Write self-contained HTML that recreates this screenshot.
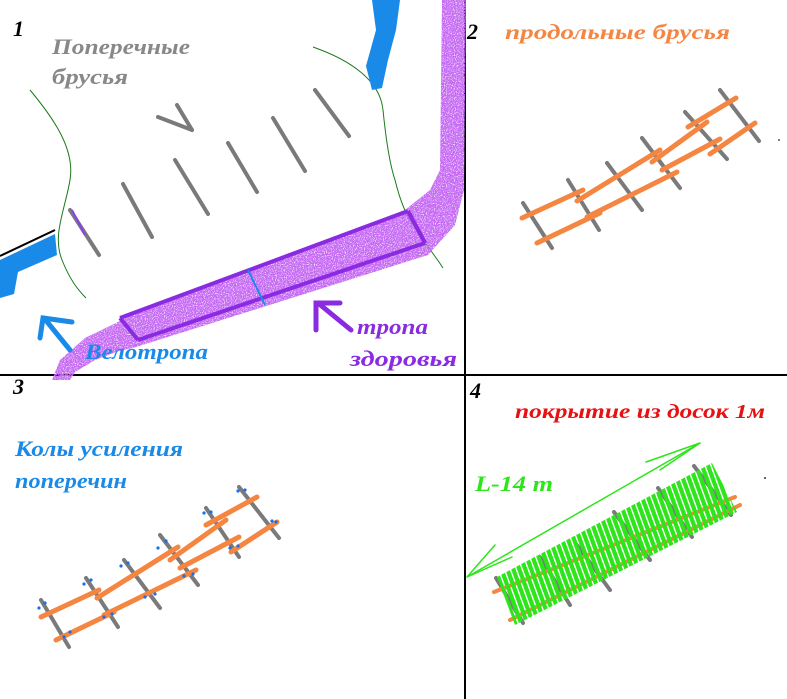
<!DOCTYPE html>
<html><head><meta charset="utf-8"><style>
html,body{margin:0;padding:0;background:#fff;}
svg{display:block;}
text{font-family:"Liberation Serif",serif;font-style:italic;}
</style></head><body>
<svg width="787" height="699" viewBox="0 0 787 699" xmlns="http://www.w3.org/2000/svg">
<defs>
<pattern id="boards" width="5.6" height="10" patternUnits="userSpaceOnUse" patternTransform="rotate(-20)">
<rect x="0" y="0" width="4.2" height="10" fill="#2ee51c"/>
</pattern>
<filter id="speck"><feTurbulence type="fractalNoise" baseFrequency="0.9" numOctaves="1" result="n"/><feColorMatrix in="n" type="matrix" values="0 0 0 0 0.56  0 0 0 0 0.14  0 0 0 0 0.9  0 0 0 -3.5 2.7" result="c"/><feComposite in="c" in2="SourceGraphic" operator="in"/></filter>
</defs>

<line x1="465" y1="0" x2="465" y2="699" stroke="#000" stroke-width="2"/>
<line x1="0" y1="375" x2="787" y2="375" stroke="#000" stroke-width="2"/>

<text x="13" y="36" font-size="22" font-weight="bold">1</text>
<text x="52" y="54" font-size="22" font-weight="bold" fill="#888" textLength="138" lengthAdjust="spacingAndGlyphs">Поперечные</text>
<text x="52" y="84" font-size="22" font-weight="bold" fill="#888" textLength="76" lengthAdjust="spacingAndGlyphs">брусья</text>

<path d="M30,90 C55,120 75,150 70,180 C65,210 52,235 62,260 C70,280 78,290 86,298" fill="none" stroke="#1a7a1a" stroke-width="1"/>
<path d="M313,47 C350,60 380,80 383,110 C386,140 390,165 395,180 C400,200 405,215 420,235 C430,250 438,260 443,268" fill="none" stroke="#1a7a1a" stroke-width="1"/>

<path d="M0,260 L55,234 L57,255 L18,272 L14,294 L0,298 Z" fill="#1a8ae8"/>
<path d="M0,256 L55,230" stroke="#000" stroke-width="2"/>
<path d="M372,0 L400,0 L396,30 L388,60 L382,88 L372,90 L366,66 L376,30 Z" fill="#1a8ae8"/>

<g stroke="#7a7a7a" stroke-width="4" stroke-linecap="round">
<line x1="70" y1="210" x2="99" y2="255"/>
<line x1="123" y1="184" x2="152" y2="237"/>
<line x1="175" y1="160" x2="208" y2="214"/>
<line x1="228" y1="143" x2="257" y2="192"/>
<line x1="273" y1="118" x2="305" y2="171"/>
<line x1="315" y1="90" x2="349" y2="136"/>
<line x1="177" y1="105" x2="192" y2="130"/>
<line x1="158" y1="117" x2="192" y2="130"/>
</g>
<line x1="72" y1="210" x2="85" y2="235" stroke="#8a3ff0" stroke-width="2"/>

<g filter="url(#speck)">
<path d="M442,0 L466,0 L464,190 L455,225 L428,255 L136,347 L116,352 L95,360 L75,372 L70,380 L52,380 L60,360 L85,338 L118,322 L125,318 L405,210 L430,190 L440,170 Z" fill="#000"/>
</g>
<g fill="none" stroke="#8a2be2" stroke-width="4">
<line x1="120" y1="318" x2="408" y2="211"/>
<line x1="138" y1="340" x2="425" y2="243"/>
<line x1="120" y1="318" x2="138" y2="340"/>
<line x1="408" y1="211" x2="425" y2="243"/>
</g>
<line x1="248" y1="270" x2="265" y2="305" stroke="#1a8ae8" stroke-width="2"/>
<g stroke="#8a2be2" stroke-width="5" stroke-linecap="round" fill="none">
<line x1="318" y1="303" x2="351" y2="330"/>
<polyline points="316,330 316,303 340,303"/>
</g>
<text x="357" y="334" font-size="22" font-weight="bold" fill="#8a2be2" textLength="71" lengthAdjust="spacingAndGlyphs">тропа</text>
<text x="350" y="366" font-size="22" font-weight="bold" fill="#8a2be2" textLength="107" lengthAdjust="spacingAndGlyphs">здоровья</text>

<g stroke="#1a8ae8" stroke-width="5" stroke-linecap="round" fill="none">
<line x1="44" y1="318" x2="70" y2="350"/>
<polyline points="40,338 43,318 72,322"/>
</g>
<text x="85" y="359" font-size="22" font-weight="bold" fill="#1a8ae8" textLength="123" lengthAdjust="spacingAndGlyphs">Велотропа</text>

<text x="467" y="39" font-size="22" font-weight="bold">2</text>
<text x="505" y="39" font-size="21" font-weight="bold" fill="#f58642" textLength="225" lengthAdjust="spacingAndGlyphs">продольные  брусья</text>
<g stroke="#7a7a7a" stroke-width="4" stroke-linecap="round">
<line x1="523" y1="203" x2="552" y2="248"/>
<line x1="568" y1="180" x2="599" y2="230"/>
<line x1="607" y1="163" x2="642" y2="210"/>
<line x1="642" y1="138" x2="680" y2="188"/>
<line x1="685" y1="112" x2="727" y2="159"/>
<line x1="720" y1="90" x2="759" y2="141"/>
</g>
<g stroke="#f58642" stroke-width="5" stroke-linecap="round">
<line x1="522" y1="218" x2="583" y2="190"/>
<line x1="577" y1="201" x2="660" y2="150"/>
<line x1="652" y1="162" x2="707" y2="122"/>
<line x1="688" y1="127" x2="736" y2="98"/>
<line x1="537" y1="243" x2="600" y2="213"/>
<line x1="587" y1="217" x2="677" y2="172"/>
<line x1="662" y1="170" x2="720" y2="139"/>
<line x1="710" y1="154" x2="755" y2="123"/>
</g>
<circle cx="779" cy="140" r="1" fill="#555"/>

<text x="13" y="394" font-size="22" font-weight="bold">3</text>
<text x="15" y="456" font-size="22" font-weight="bold" fill="#1a8ae8" textLength="168" lengthAdjust="spacingAndGlyphs">Колы усиления</text>
<text x="15" y="488" font-size="22" font-weight="bold" fill="#1a8ae8" textLength="112" lengthAdjust="spacingAndGlyphs">поперечин</text>
<g stroke="#7a7a7a" stroke-width="4" stroke-linecap="round">
<line x1="41" y1="600" x2="69" y2="647"/>
<line x1="86" y1="578" x2="118" y2="627"/>
<line x1="124" y1="560" x2="160" y2="608"/>
<line x1="160" y1="535" x2="198" y2="585"/>
<line x1="206" y1="508" x2="239" y2="557"/>
<line x1="239" y1="487" x2="279" y2="538"/>
</g>
<g stroke="#f58642" stroke-width="5" stroke-linecap="round">
<line x1="41" y1="617" x2="99" y2="590"/>
<line x1="97" y1="598" x2="178" y2="547"/>
<line x1="170" y1="560" x2="226" y2="520"/>
<line x1="206" y1="525" x2="257" y2="497"/>
<line x1="56" y1="640" x2="114" y2="612"/>
<line x1="104" y1="615" x2="196" y2="570"/>
<line x1="180" y1="568" x2="239" y2="537"/>
<line x1="231" y1="552" x2="277" y2="522"/>
</g>
<g fill="#1a6ee8">
<circle cx="39" cy="608" r="1.6"/><circle cx="45" cy="603" r="1.6"/><circle cx="64" cy="637" r="1.6"/><circle cx="70" cy="632" r="1.6"/>
<circle cx="84" cy="584" r="1.6"/><circle cx="91" cy="580" r="1.6"/><circle cx="104" cy="617" r="1.6"/><circle cx="112" cy="614" r="1.6"/>
<circle cx="121" cy="566" r="1.6"/><circle cx="128" cy="563" r="1.6"/><circle cx="145" cy="597" r="1.6"/><circle cx="155" cy="594" r="1.6"/>
<circle cx="158" cy="548" r="1.6"/><circle cx="166" cy="541" r="1.6"/><circle cx="184" cy="576" r="1.6"/><circle cx="193" cy="574" r="1.6"/>
<circle cx="204" cy="513" r="1.6"/><circle cx="211" cy="512" r="1.6"/><circle cx="230" cy="548" r="1.6"/><circle cx="238" cy="546" r="1.6"/>
<circle cx="238" cy="491" r="1.6"/><circle cx="245" cy="490" r="1.6"/><circle cx="272" cy="521" r="1.6"/><circle cx="276" cy="522" r="1.6"/>
</g>

<text x="470" y="398" font-size="22" font-weight="bold">4</text>
<text x="515" y="418" font-size="20" font-weight="bold" fill="#e81010" textLength="250" lengthAdjust="spacingAndGlyphs">покрытие из досок 1м</text>
<text x="475" y="491" font-size="22" font-weight="bold" fill="#2ee51c" textLength="78" lengthAdjust="spacingAndGlyphs">L-14 m</text>
<circle cx="765" cy="478" r="1" fill="#333"/>
<g stroke="#2ee51c" stroke-width="1.5" fill="none" stroke-linecap="round">
<line x1="467" y1="577" x2="700" y2="443"/>
<polyline points="646,462 700,443 660,470"/>
<polyline points="495,545 467,577 512,557"/>
</g>
<g stroke="#7a7a7a" stroke-width="4" stroke-linecap="round">
<line x1="496" y1="578" x2="523" y2="623"/>
<line x1="540" y1="557" x2="570" y2="605"/>
<line x1="577" y1="545" x2="610" y2="590"/>
<line x1="614" y1="512" x2="650" y2="560"/>
<line x1="658" y1="488" x2="692" y2="537"/>
<line x1="694" y1="466" x2="731" y2="515"/>
</g>
<g stroke="#f58642" stroke-width="4" stroke-linecap="round">
<line x1="494" y1="592" x2="735" y2="497"/>
<line x1="510" y1="620" x2="740" y2="505"/>
</g>
<polygon points="497,577 712,463 737,512 515,625" fill="url(#boards)"/>
</svg>
</body></html>
